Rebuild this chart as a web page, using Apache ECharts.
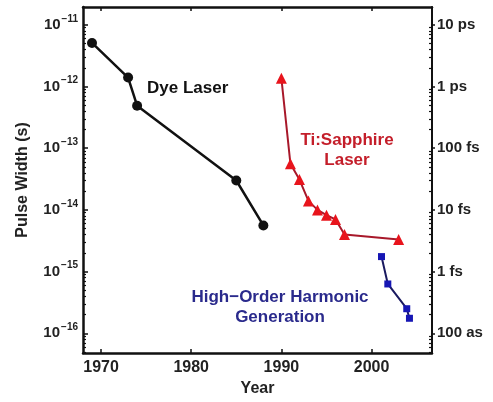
<!DOCTYPE html>
<html><head><meta charset="utf-8">
<script src="https://cdn.jsdelivr.net/npm/echarts@6/dist/echarts.min.js"></script>
<style>html,body{margin:0;padding:0;background:#fff}#c{width:493px;height:402px}</style>
</head><body><div id="c"></div>
<script>
// Data (pulse width in seconds)
const dyeYears = [1969, 1973, 1974, 1985, 1988];
const dyeWidths = [5.1e-12, 1.4e-12, 4.9e-13, 3.0e-14, 5.6e-15];
const tiYears = [1990, 1991, 1992, 1993, 1994, 1995, 1996, 1997, 2003];
const tiWidths = [1.36e-12, 5.6e-14, 3.1e-14, 1.4e-14, 1.0e-14, 8.2e-15, 7.0e-15, 4.0e-15, 3.3e-15];
const hhgYears = [2001.1, 2001.8, 2003.9, 2004.2];
const hhgWidths = [1.75e-15, 6.3e-16, 2.5e-16, 1.75e-16];
const xTicks = [1970, 1980, 1990, 2000];
const yExponents = [-16, -15, -14, -13, -12, -11];
const rightLabels = ['100 as', '1 fs', '10 fs', '100 fs', '1 ps', '10 ps'];

const lg = v => Math.log10(v);
const pts = (xs, ys) => xs.map((x, i) => [x, lg(ys[i])]);
const minorTicks = [];
for (let n = -17; n <= -11; n++) for (let k = 2; k <= 9; k++) {
  const v = n + Math.log10(k);
  if (v > -16.32 && v < -10.71) minorTicks.push(v);
}
const font = 'Liberation Sans, Arial, sans-serif';
const yMin = -16.32, yMax = -10.71, xMin = 1968, xMax = 2006.7;
const baseY = {type: 'value', min: yMin, max: yMax, splitLine: {show: false}};

const chart = echarts.init(document.getElementById('c'));
chart.setOption({
  animation: false,
  grid: {left: 83, right: 61, top: 7, bottom: 45},
  xAxis: [
    {type: 'value', min: xMin, max: xMax, position: 'bottom', splitLine: {show: false},
     axisLine: {lineStyle: {color: '#111', width: 2.5}},
     axisTick: {inside: true, length: 4, customValues: xTicks, lineStyle: {color: '#111', width: 1.5}},
     axisLabel: {customValues: xTicks, formatter: v => String(Math.round(v)), color: '#222', fontFamily: font, fontWeight: 'bold', fontSize: 16, margin: 7},
     name: 'Year', nameLocation: 'middle', nameGap: 28,
     nameTextStyle: {color: '#222', fontFamily: font, fontWeight: 'bold', fontSize: 16}},
    {type: 'value', min: xMin, max: xMax, position: 'top', splitLine: {show: false},
     axisLine: {lineStyle: {color: '#111', width: 2.5}},
     axisTick: {inside: true, length: 4, customValues: xTicks, lineStyle: {color: '#111', width: 1.5}},
     axisLabel: {show: false}}
  ],
  yAxis: [
    Object.assign({}, baseY, {position: 'left',
     axisLine: {show: true, lineStyle: {color: '#111', width: 2.5}},
     axisTick: {inside: true, length: 5, customValues: yExponents, lineStyle: {color: '#111', width: 1.5}},
     axisLabel: {customValues: yExponents, margin: 5, fontFamily: font,
       formatter: v => '{b|10}{s|' + String(Math.round(v)).replace('-', '\u2212') + '}',
       rich: {b: {fontSize: 15, fontWeight: 'bold', color: '#222', fontFamily: font},
              s: {fontSize: 10, fontWeight: 'bold', color: '#222', fontFamily: font, padding: [0, 0, 12, 1]}}},
     name: 'Pulse Width (s)', nameLocation: 'middle', nameGap: 52, nameRotate: 90,
     nameTextStyle: {color: '#222', fontFamily: font, fontWeight: 'bold', fontSize: 16}}),
    Object.assign({}, baseY, {position: 'left',
     axisLine: {show: false},
     axisTick: {inside: true, length: 3, customValues: minorTicks, lineStyle: {color: '#111', width: 1.2}},
     axisLabel: {show: false}}),
    Object.assign({}, baseY, {position: 'right',
     axisLine: {show: true, lineStyle: {color: '#111', width: 2}},
     axisTick: {inside: false, length: 3, customValues: yExponents, lineStyle: {color: '#111', width: 1.5}},
     axisLabel: {customValues: yExponents, margin: 5, color: '#222', fontFamily: font, fontWeight: 'bold', fontSize: 15,
       formatter: v => rightLabels[yExponents.indexOf(Math.round(v))]}}),
    Object.assign({}, baseY, {position: 'right',
     axisLine: {show: false},
     axisTick: {inside: true, length: 3, customValues: minorTicks, lineStyle: {color: '#111', width: 1.2}},
     axisLabel: {show: false}})
  ],
  series: [
    {type: 'line', data: pts(dyeYears, dyeWidths), symbol: 'circle', symbolSize: 10,
     lineStyle: {color: '#111', width: 2.5}, itemStyle: {color: '#111'}},
    {type: 'line', data: pts(tiYears, tiWidths), symbol: 'triangle', symbolSize: 11,
     lineStyle: {color: '#a8182a', width: 2}, itemStyle: {color: '#e8141c'}},
    {type: 'line', data: pts(hhgYears, hhgWidths), symbol: 'rect', symbolSize: 7,
     lineStyle: {color: '#1a1a60', width: 2}, itemStyle: {color: '#1616b4'}}
  ],
  graphic: [
    {type: 'text', left: 147, top: 80, style: {text: 'Dye Laser', fill: '#111', font: 'bold 17px ' + font}},
    {type: 'text', x: 347, y: 150, style: {text: 'Ti:Sapphire\nLaser', fill: '#c41e2a', font: 'bold 17px ' + font,
      align: 'center', verticalAlign: 'middle', lineHeight: 20}},
    {type: 'text', x: 280, y: 307, style: {text: 'High\u2212Order Harmonic\nGeneration', fill: '#2a2a8c', font: 'bold 17px ' + font,
      align: 'center', verticalAlign: 'middle', lineHeight: 20}}
  ]
});
</script></body></html>
